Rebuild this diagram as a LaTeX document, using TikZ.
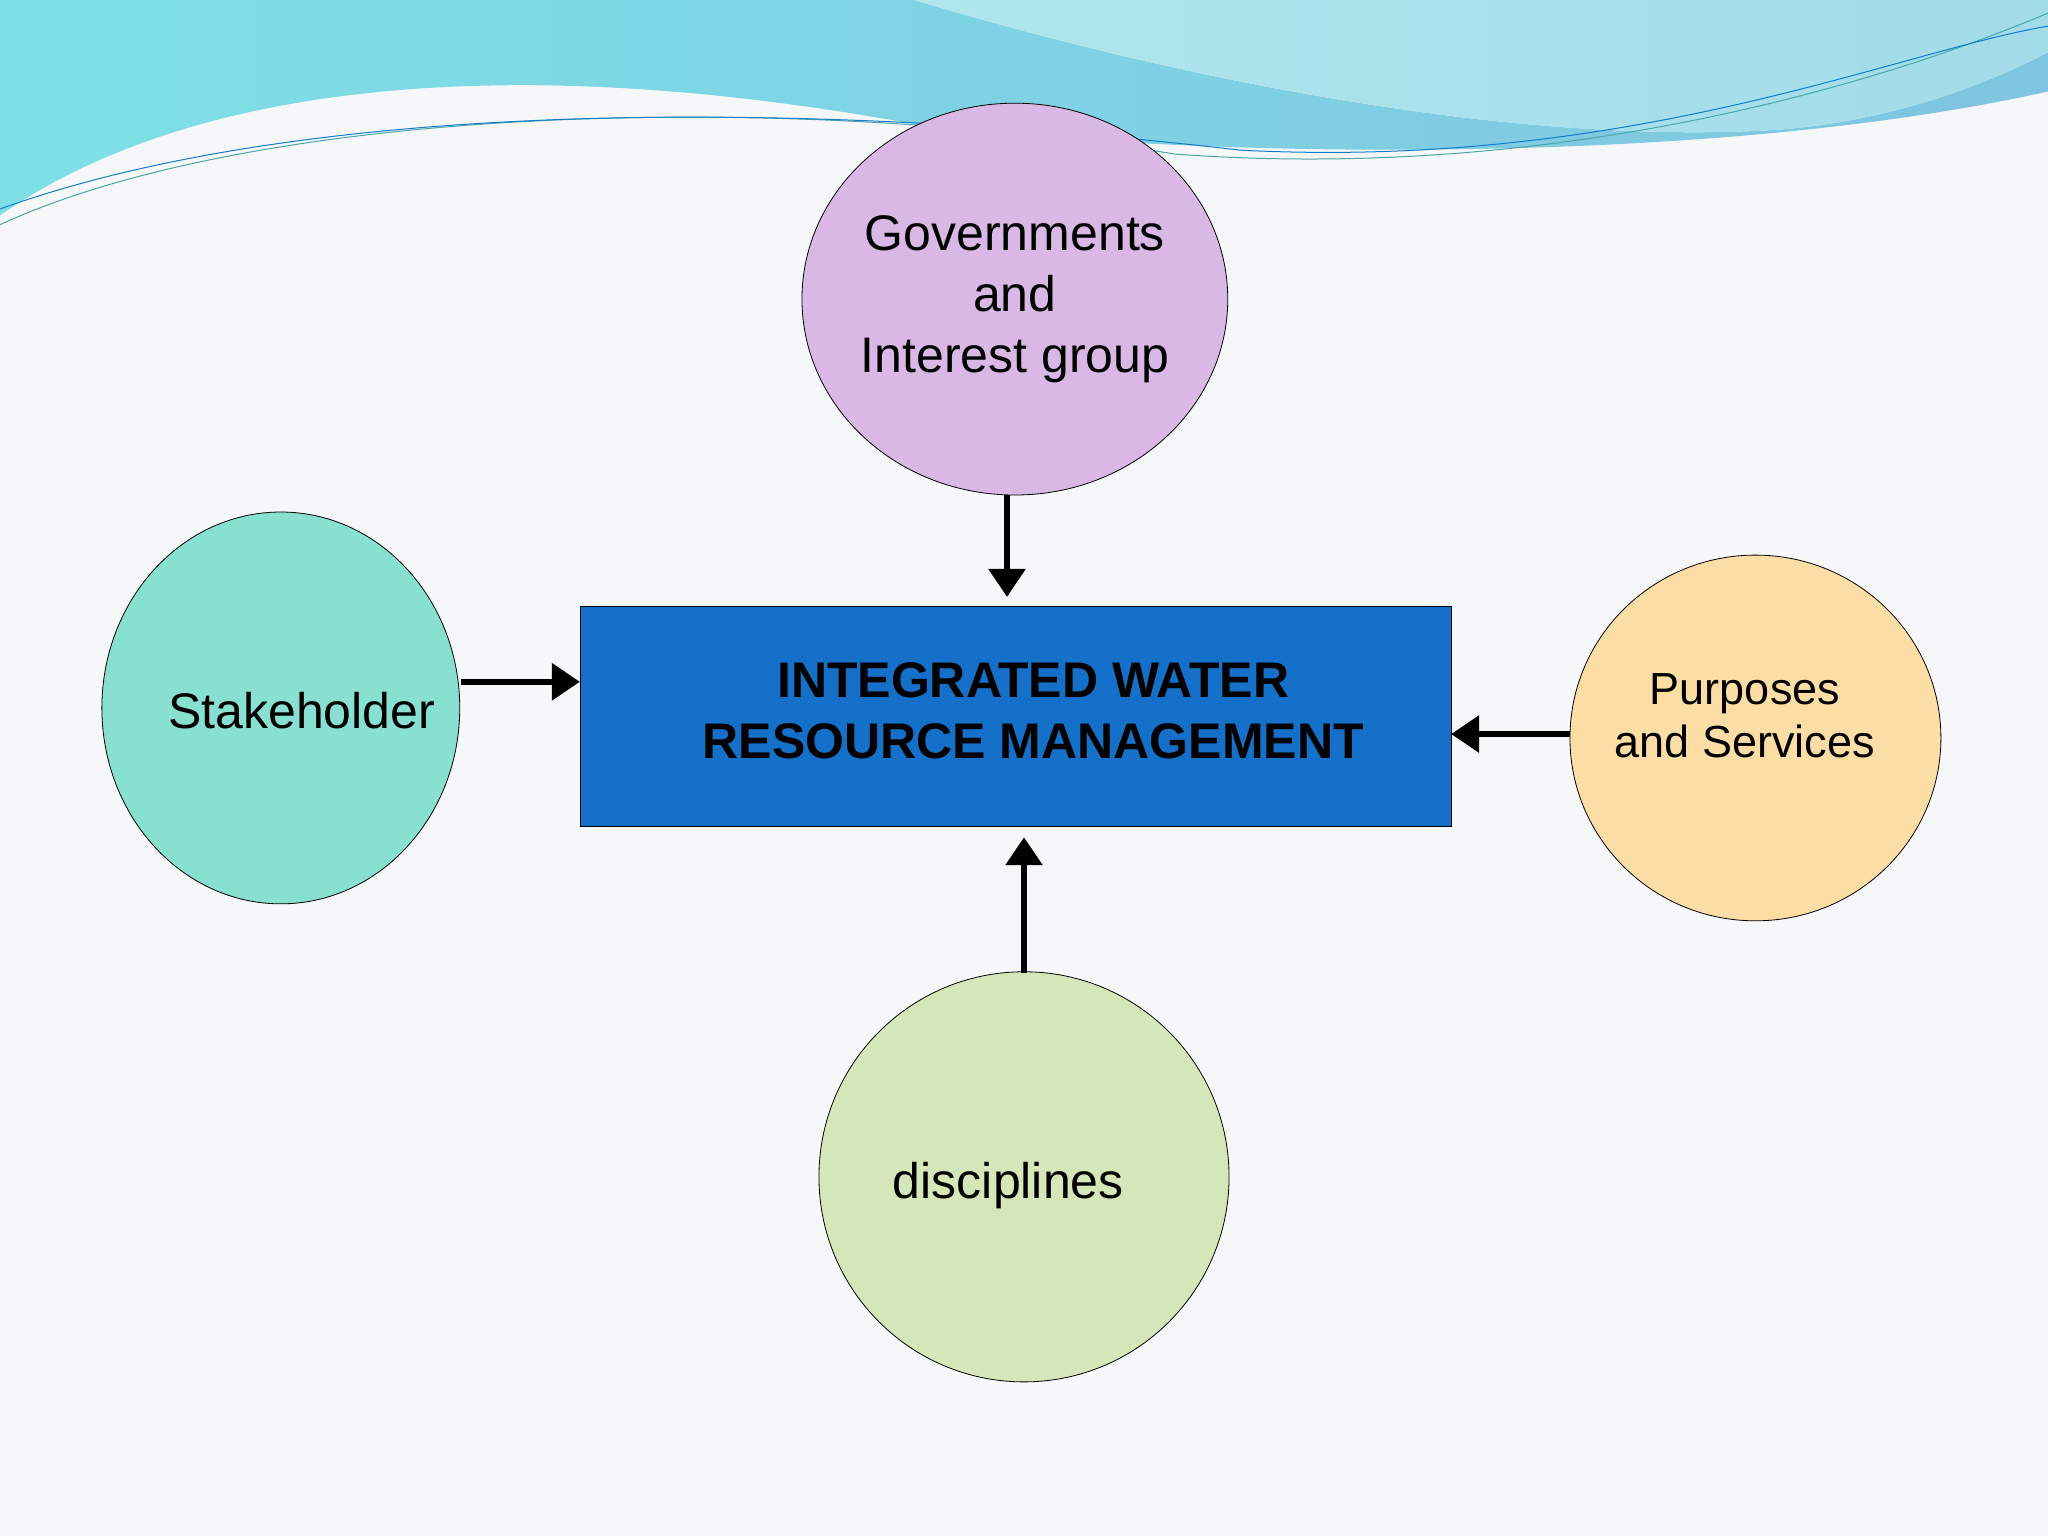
\documentclass[tikz,border=0pt]{standalone}
\usepackage{fontspec}
\setmainfont{Liberation Sans}
\usetikzlibrary{arrows.meta,shapes.geometric}
\definecolor{bg}{HTML}{F6F7F9}
\definecolor{cpur}{HTML}{DAB8E6}
\definecolor{cgrn}{HTML}{88E0D0}
\definecolor{corg}{HTML}{FBDDA5}
\definecolor{clim}{HTML}{D5E6B8}
\definecolor{cbox}{HTML}{1470C8}
\definecolor{wave1}{HTML}{7FC4E0}
\definecolor{wave2}{HTML}{7EE0E6}
\definecolor{wave3}{HTML}{B0E6EE}
\begin{document}
\begin{tikzpicture}[x=1.306pt,y=-1.306pt,
  circ/.style={ellipse, draw=black, line width=0.8pt, inner sep=0},
  lbl/.style={font=\fontsize{50}{61}\selectfont, align=center, text=black},
  arr/.style={line width=6pt, -{Triangle[length=28pt,width=36pt]}}]
\useasboundingbox (0,0) rectangle (1568,1176);
\fill[bg] (0,0) rectangle (1568,1176);
% waves
\shade[left color=wave2, right color=wave1] (0,0) -- (700,0) .. controls (900,60) and (1150,110) .. (1350,100) .. controls (1450,95) and (1530,60) .. (1568,40) -- (1568,70) .. controls (1300,130) and (900,120) .. (700,95) .. controls (400,40) and (150,60) .. (0,165) -- cycle;
\shade[left color=wave3, right color=wave3!70!wave1] (700,0) -- (1568,0) -- (1568,40) .. controls (1530,60) and (1450,95) .. (1350,100) .. controls (1150,110) and (900,60) .. (700,0);
\draw[teal!70, line width=1pt] (0,172) .. controls (200,80) and (600,70) .. (900,118) .. controls (1200,140) and (1450,60) .. (1568,10);
\draw[cyan!60!blue, line width=1pt] (0,160) .. controls (250,70) and (650,80) .. (950,115) .. controls (1250,130) and (1450,40) .. (1568,20);
% nodes
\node[circ, fill=cpur, minimum width={326*1.306pt}, minimum height={300*1.306pt}] (gov) at (777,229) {};
\node[lbl] (govt) at (777,229) {Governments\\and\\Interest group};
\node[circ, fill=cgrn, minimum width={274*1.306pt}, minimum height={300*1.306pt}] (sta) at (215,542) {};
\node[lbl] (stat) at (231,544) {Stakeholder};
\node[circ, fill=corg, minimum width={284*1.306pt}, minimum height={280*1.306pt}] (pur) at (1344,565) {};
\node[lbl, font=\fontsize{45}{53}\selectfont] (purt) at (1336,548) {Purposes\\and Services};
\node[circ, fill=clim, minimum width={314*1.306pt}, minimum height={314*1.306pt}] (dis) at (784,901) {};
\node[lbl] (dist) at (772,908) {disciplines};
\node[draw=black, line width=0.8pt, fill=cbox, minimum width={667*1.306pt}, minimum height={169*1.306pt}, inner sep=0] (iw) at (777.5,548.5) {};
\node[lbl, font=\fontsize{50}{61}\bfseries\selectfont] (iwt) at (791,544) {INTEGRATED WATER\\RESOURCE MANAGEMENT};
% arrows
\coordinate (t1) at (771,379); \coordinate (t2) at (771,457);
\draw[arr] (t1) -- (t2);
\coordinate (l1) at (353,522); \coordinate (l2) at (444,522);
\draw[arr] (l1) -- (l2);
\coordinate (r1) at (1202,562); \coordinate (r2) at (1111,562);
\draw[arr] (r1) -- (r2);
\coordinate (b1) at (784,745); \coordinate (b2) at (784,641);
\draw[arr] (b1) -- (b2);
\end{tikzpicture}
\end{document}
